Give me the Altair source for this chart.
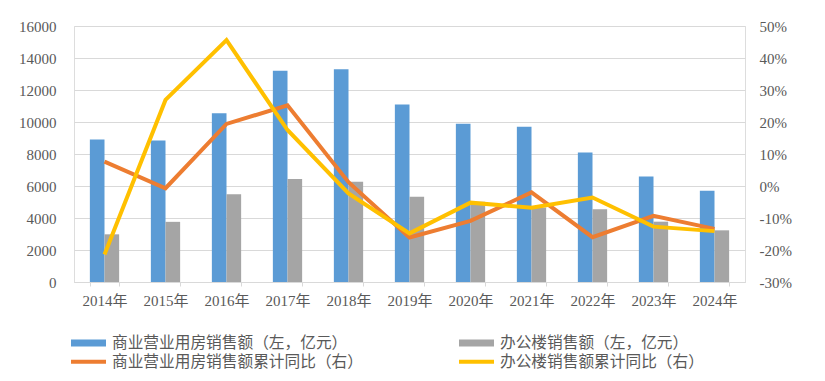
import altair as alt
import pandas as pd

years = ["2014年", "2015年", "2016年", "2017年", "2018年", "2019年",
         "2020年", "2021年", "2022年", "2023年", "2024年"]

bar_names = ["商业营业用房销售额（左，亿元）", "办公楼销售额（左，亿元）"]
line_names = ["商业营业用房销售额累计同比（右）", "办公楼销售额累计同比（右）"]

commercial_sales = [8900, 8850, 10550, 13200, 13300, 11100, 9890, 9700, 8100, 6600, 5700]
office_sales = [2980, 3760, 5480, 6430, 6270, 5330, 5020, 4660, 4540, 3770, 3230]
commercial_yoy = [7.6, -0.7, 19.4, 25.2, 1.2, -16.1, -10.9, -2.0, -16.0, -9.3, -13.4]
office_yoy = [-21.4, 26.9, 45.6, 17.5, -2.3, -14.8, -5.2, -6.8, -3.6, -12.7, -14.1]

bar_colors = ["#5B9BD5", "#A5A5A5"]
line_colors = ["#ED7D31", "#FFC000"]

bars_df = pd.DataFrame({
    "year": years * 2,
    "series": [bar_names[0]] * len(years) + [bar_names[1]] * len(years),
    "value": commercial_sales + office_sales,
})
lines_df = pd.DataFrame({
    "year": years * 2,
    "series": [line_names[0]] * len(years) + [line_names[1]] * len(years),
    "pct": commercial_yoy + office_yoy,
})

TEXT = "#595959"
GRID = "#D9D9D9"
NUM_FONT = "Liberation Serif, Noto Sans CJK SC"
CJK_FONT = "Noto Sans CJK SC"

x_enc = alt.X(
    "year:N", sort=years, title=None,
    scale=alt.Scale(paddingInner=0.52, paddingOuter=0.26),
    axis=alt.Axis(labelAngle=0, labelFont=NUM_FONT, labelFontSize=15, labelColor=TEXT,
                  domainColor=GRID, tickColor=GRID, tickSize=4, tickBand="extent",
                  labelPadding=7, grid=False),
)

bars = alt.Chart(bars_df).mark_bar().encode(
    x=x_enc,
    xOffset=alt.XOffset("series:N", sort=bar_names,
                        scale=alt.Scale(paddingInner=0, paddingOuter=0)),
    y=alt.Y("value:Q", title=None,
            scale=alt.Scale(domain=[0, 16000], nice=False),
            axis=alt.Axis(values=list(range(0, 16001, 2000)), format="d", orient="left",
                          domain=False, ticks=False, labelFont=NUM_FONT, labelFontSize=15,
                          labelColor=TEXT, labelPadding=18, gridColor=GRID, gridWidth=1)),
    color=alt.Color("series:N",
                    scale=alt.Scale(domain=bar_names, range=bar_colors),
                    legend=alt.Legend(title=None, orient="none", direction="horizontal",
                                      columns=2, legendX=-3, legendY=299,
                                      symbolType="M-1,-0.2L1,-0.2L1,0.2L-1,0.2Z",
                                      symbolSize=1225, symbolStrokeWidth=0,
                                      labelFont=CJK_FONT, labelFontSize=15.7,
                                      labelColor=TEXT, labelOffset=6, labelLimit=400,
                                      columnPadding=111, padding=0)),
)

lines = alt.Chart(lines_df).mark_line(strokeWidth=4).encode(
    x=x_enc,
    y=alt.Y("pct:Q", title=None,
            scale=alt.Scale(domain=[-30, 50], nice=False),
            axis=alt.Axis(values=list(range(-30, 51, 10)), orient="right", grid=False,
                          domain=False, ticks=False, labelExpr="datum.value + '%'",
                          labelFont=NUM_FONT, labelFontSize=15, labelColor=TEXT,
                          labelPadding=14)),
    stroke=alt.Stroke("series:N",
                      scale=alt.Scale(domain=line_names, range=line_colors),
                      legend=alt.Legend(title=None, orient="none", direction="horizontal",
                                        columns=2, legendX=-5, legendY=316,
                                        symbolType="stroke", symbolSize=1225,
                                        symbolStrokeWidth=4,
                                        labelFont=CJK_FONT, labelFontSize=15.7,
                                        labelColor=TEXT, labelOffset=4, labelLimit=400,
                                        columnPadding=88, padding=0)),
    order=alt.Order("series:N"),
)

chart = alt.layer(bars, lines).resolve_scale(
    y="independent", color="independent", stroke="independent"
).properties(
    width=671, height=256,
    autosize=alt.AutoSizeParams(type="none"),
    padding={"left": 66, "top": 18, "right": 70, "bottom": 91},
).configure_view(stroke=None).configure(background="white")

chart.save("out.html", embed_options={"renderer": "svg", "actions": False})
